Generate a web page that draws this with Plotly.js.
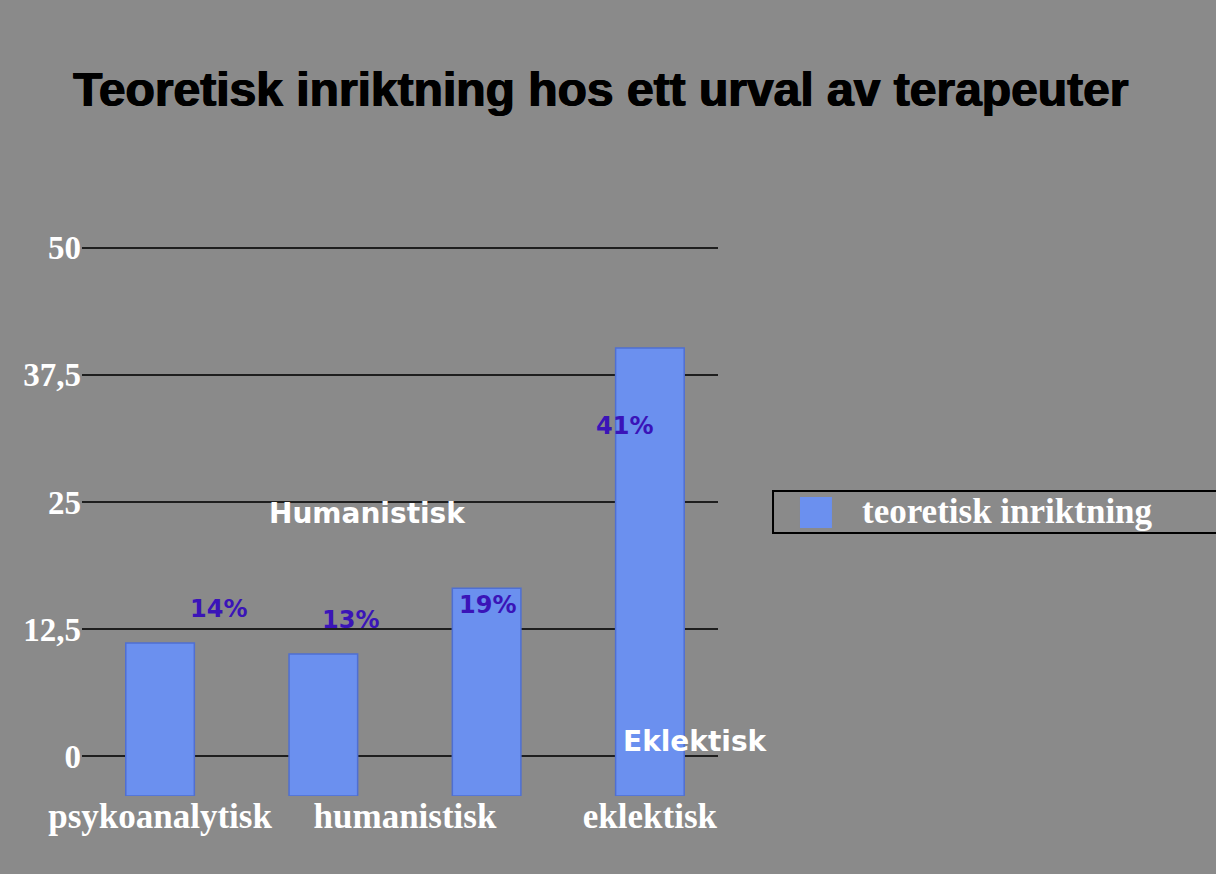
<!DOCTYPE html>
<html>
<head>
<meta charset="utf-8">
<script src="https://cdn.plot.ly/plotly-3.0.1.min.js"></script>
<style>html,body{margin:0;padding:0;background:#8a8a8a;}#chart{width:1216px;height:874px;}</style>
</head>
<body>
<div id="chart"></div>
<script>
// ---- data ----
var chartTitle = "Teoretisk inriktning hos ett urval av terapeuter";
var seriesName = "teoretisk inriktning";
var barPositions = [0, 1, 2, 3];
var barValues = [14, 13, 19, 41];
var valueLabels = ["14%", "13%", "19%", "41%"];
var categoryTickPositions = [0, 1.5, 3];
var categoryLabels = ["psykoanalytisk", "humanistisk", "eklektisk"];
var yTickValues = [0, 12.5, 25, 37.5, 50];
var yTickLabels = ["0", "12,5", "25", "37,5", "50"];
var groupLabels = ["Humanistisk", "Eklektisk"];

// ---- styling ----
var labelShiftX = [58, 27, 1, -25];
var labelShiftY = [34, 34, -17, -78];
var serif = "Liberation Serif, Times New Roman, serif";
var sans = "DejaVu Sans, Verdana, sans-serif";

var bars = {
  type: "bar",
  x: barPositions,
  y: barValues,
  name: seriesName,
  yaxis: "y2",
  width: 0.42,
  marker: {color: "#6b90ef", line: {color: "#4f6fd2", width: 1.5}},
  showlegend: false,
  hoverinfo: "skip"
};

var annotations = valueLabels.map(function (t, i) {
  return {
    x: barPositions[i], y: barValues[i], xref: "x", yref: "y2",
    text: "<b>" + t + "</b>", showarrow: false,
    xshift: labelShiftX[i], yshift: labelShiftY[i],
    font: {family: sans, size: 24, color: "#3a14b8"}
  };
});
annotations.push({
  x: 1.27, y: 23.9, xref: "x", yref: "y", text: "<b>" + groupLabels[0] + "</b>",
  showarrow: false, font: {family: sans, size: 28, color: "#ffffff"}
});
annotations.push({
  x: 3.28, y: 1.5, xref: "x", yref: "y", text: "<b>" + groupLabels[1] + "</b>",
  showarrow: false, font: {family: sans, size: 28, color: "#ffffff"}
});
annotations.push({
  x: 1.2233, y: 0.5108, xref: "paper", yref: "paper", xanchor: "left",
  text: "<b>" + seriesName + "</b>", showarrow: false,
  font: {family: serif, size: 35, color: "#ffffff"}
});

var layout = {
  width: 1216, height: 874,
  paper_bgcolor: "#8a8a8a", plot_bgcolor: "rgba(0,0,0,0)",
  margin: {l: 82, r: 498, t: 240, b: 78},
  title: {
    text: "<b>" + chartTitle + "</b>",
    x: 0.494, xref: "container", y: 0.917, yref: "container", xanchor: "center",
    font: {family: "Liberation Sans, Arial, sans-serif", size: 48, color: "#000000",
           shadow: "0.8px 0px 0px #000, -0.6px 0px 0px #000"}
  },
  xaxis: {
    range: [-0.478, 3.417], tickvals: categoryTickPositions, ticktext: categoryLabels,
    showgrid: false, zeroline: false, showline: false, ticks: "",
    ticklabelstandoff: -4,
    tickfont: {family: serif, size: 35, color: "#ffffff", weight: "bold"}
  },
  yaxis: {
    range: [-3.89, 50.75], tickvals: yTickValues, ticktext: yTickLabels,
    showgrid: true, gridcolor: "#1e1e1e", gridwidth: 2, zeroline: false,
    showline: false, ticks: "",
    tickfont: {family: serif, size: 33, color: "#ffffff", weight: "bold"}
  },
  yaxis2: {range: [0, 50.87], overlaying: "y", visible: false, showgrid: false},
  annotations: annotations,
  shapes: [
    {type: "rect", xref: "paper", yref: "paper", x0: 1.0865, x1: 1.82, y0: 0.4730, y1: 0.5486,
     line: {color: "#000000", width: 2}, fillcolor: "rgba(0,0,0,0)"},
    {type: "rect", xref: "paper", yref: "paper", x0: 1.1289, x1: 1.1792, y0: 0.4820, y1: 0.5378,
     line: {width: 0}, fillcolor: "#6b90ef"}
  ],
  showlegend: false
};

Plotly.newPlot("chart", [bars], layout, {displayModeBar: false, staticPlot: true});
</script>
</body>
</html>
